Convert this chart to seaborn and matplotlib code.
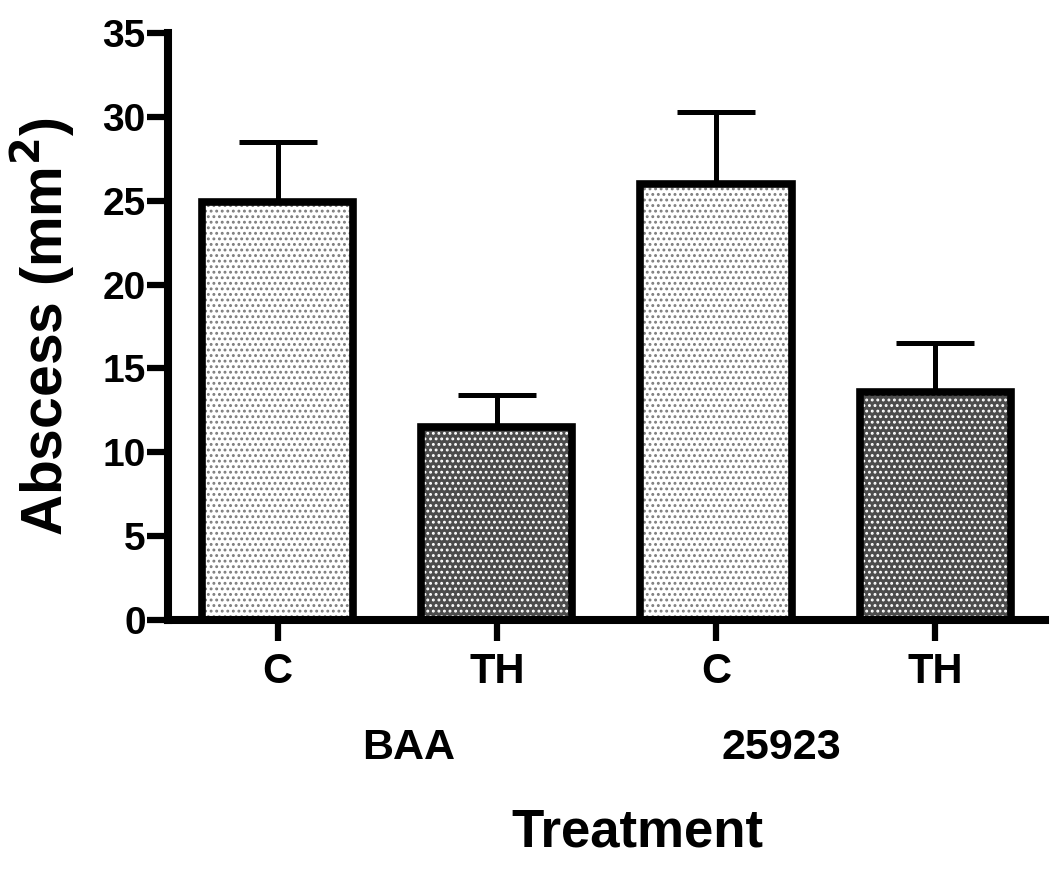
import matplotlib
matplotlib.use("Agg")
import matplotlib.pyplot as plt
import seaborn as sns
import numpy as np
import pandas as pd

# ---- data ----
groups = ["BAA", "BAA", "25923", "25923"]
treatments = ["C", "TH", "C", "TH"]
means = [24.9, 11.5, 26.0, 13.6]
sem = [3.6, 1.9, 4.3, 2.9]
group_labels = ["BAA", "25923"]
yticks = [0, 5, 10, 15, 20, 25, 30, 35]

sns.set_theme(style="white")
plt.rcParams["font.family"] = ["Liberation Sans", "DejaVu Sans"]
plt.rcParams["font.weight"] = "bold"
plt.rcParams["text.color"] = "black"
plt.rcParams["axes.labelcolor"] = "black"
plt.rcParams["xtick.color"] = "black"
plt.rcParams["ytick.color"] = "black"
plt.rcParams["hatch.linewidth"] = 1.3

keys = [f"{g}|{t}" for g, t in zip(groups, treatments)]
df = pd.DataFrame({"key": keys, "mean": means})

fig = plt.figure(figsize=(10.5, 8.72), dpi=100)
ax = fig.add_axes([0.16, 0.289, 0.835, 0.673])

# fill layer with hatch
sns.barplot(data=df, x="key", y="mean", order=keys, ax=ax, width=0.69,
            errorbar=None, linewidth=0, saturation=1)
fills = [("#ffffff", "#7c7c7c", "..."), ("#4c4c4c", "#ffffff", "..."),
         ("#ffffff", "#7c7c7c", "..."), ("#4c4c4c", "#ffffff", "...")]
for p, (fc, hc, h) in zip(ax.patches, fills):
    p.set_facecolor(fc)
    p.set_edgecolor(hc)
    p.set_hatch(h)
    p.set_linewidth(0)

# outline layer
n_fill = len(ax.patches)
sns.barplot(data=df, x="key", y="mean", order=keys, ax=ax, width=0.69,
            errorbar=None, fill=False, saturation=1)
for p in ax.patches[n_fill:]:
    p.set_edgecolor("black")
    p.set_linewidth(5.5)
    p.set_joinstyle("miter")

xpos = np.arange(len(keys))
ax.errorbar(xpos, means, yerr=[np.zeros(len(sem)), sem], fmt="none",
            ecolor="black", elinewidth=3.6, capsize=28, capthick=3.6, zorder=1)

ax.set_xlim(-0.5, 3.5)
ax.set_ylim(0, 35)
ax.set_yticks(yticks)
ax.set_yticklabels([str(v) for v in yticks], fontsize=28, fontweight="bold", color="black")
ax.set_xticks(xpos)
ax.set_xticklabels(treatments, fontsize=30, fontweight="bold", color="black")
ax.tick_params(axis="both", which="major", length=15, width=4.5, color="black",
               direction="out", left=True, bottom=True)
ax.tick_params(axis="y", pad=1)
ax.tick_params(axis="x", pad=8)

for s in ["top", "right"]:
    ax.spines[s].set_visible(False)
for s in ["left", "bottom"]:
    ax.spines[s].set_linewidth(5.8)
    ax.spines[s].set_color("black")
ax.set_xlabel("")
ax.set_ylabel("Abscess (mm$^\\mathbf{2}$)", fontsize=41, fontweight="bold", labelpad=18,
              color="black")

trans = matplotlib.transforms.blended_transform_factory(ax.transData, fig.transFigure)
ax.text(0.6, 1 - 748 / 872, group_labels[0], transform=trans, ha="center", va="center",
        fontsize=31, fontweight="bold", color="black")
ax.text(2.30, 1 - 748 / 872, group_labels[1], transform=trans, ha="center", va="center",
        fontsize=31, fontweight="bold", color="black")
ax.text(1.64, 1 - 832 / 872, "Treatment", transform=trans, ha="center", va="center",
        fontsize=38, fontweight="bold", color="black")

fig.savefig("out.png", dpi=100)
